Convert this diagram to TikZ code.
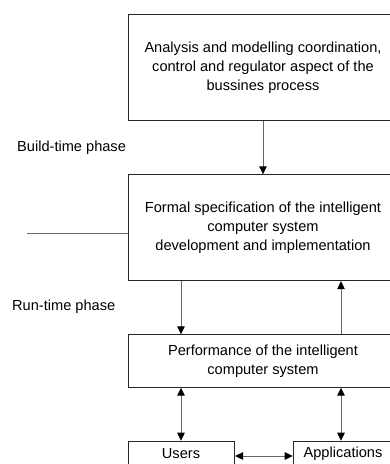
\documentclass[tikz,border=0pt]{standalone}
\usepackage{fontspec}
\setmainfont{Liberation Sans}
\usetikzlibrary{arrows.meta}
\begin{document}
\begin{tikzpicture}[x=1pt,y=-1pt,
  box/.style={draw=black!85,line width=0.8pt,align=center,font=\fontsize{14.6}{19}\selectfont,inner sep=0pt},
  lbl/.style={font=\fontsize{14.6}{19}\selectfont,anchor=west,inner sep=0pt},
  conn/.style={draw=black!60,line width=1pt,>={Triangle[black,length=8pt,width=7.5pt]}}]
\useasboundingbox (0,0) rectangle (389,464);
\node[box,minimum width=270,minimum height=106] (a) at (263,67.7) {Analysis and modelling coordination,\\control and regulator aspect of the\\bussines process};
\node[box,minimum width=270,minimum height=106] (b) at (263,227.7) {Formal specification of the intelligent\\computer system\\development and implementation};
\node[box,minimum width=270,minimum height=52.6] (c) at (263,361) {Performance of the intelligent\\computer system};
\node[box,minimum width=106.6,minimum height=50,anchor=north west] (u) at (127.7,440.7) {};
\node[box,minimum width=101,minimum height=50,anchor=north west] (p) at (292.7,440.7) {};
\node[font=\fontsize{14.6}{19}\selectfont,inner sep=0pt] (ut) at (181,454) {Users};
\node[font=\fontsize{14.6}{19}\selectfont,inner sep=0pt] (pt) at (343,454) {Applications};
\node[lbl] (bt) at (17,148) {Build-time phase};
\node[lbl] (rt) at (12,306.5) {Run-time phase};
\coordinate (l) at (27,233.3);
\draw[conn,->] (a.south) -- (b.north);
\draw[conn] (l) -- (b.west |- l);
\draw[conn,->] (b.south -| 181,0) -- (c.north -| 181,0);
\draw[conn,->] (c.north -| 341,0) -- (b.south -| 341,0);
\draw[conn,<->] (c.south -| 181,0) -- (u.north -| 181,0);
\draw[conn,<->] (c.south -| 341,0) -- (p.north -| 341,0);
\draw[conn,<->] (u.east |- 0,456) -- (p.west |- 0,456);
\end{tikzpicture}
\end{document}
